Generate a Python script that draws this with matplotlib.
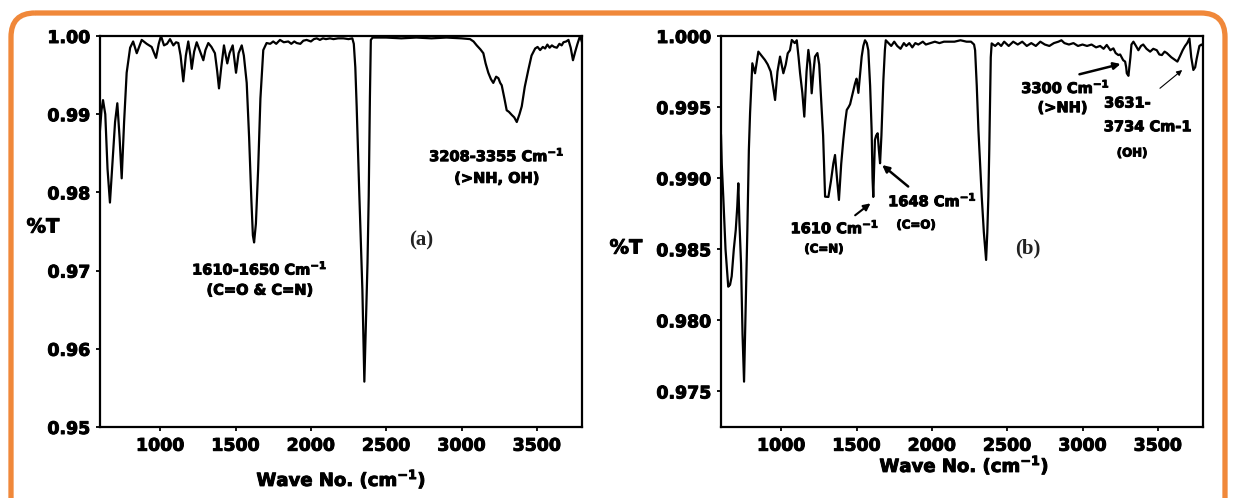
import numpy as np
import matplotlib
matplotlib.use("Agg")
import matplotlib.pyplot as plt
import matplotlib.patheffects as pe
from matplotlib.patches import FancyBboxPatch

plt.rcParams['font.family'] = ['DejaVu Sans']
plt.rcParams['font.weight'] = 'bold'
plt.rcParams['mathtext.default'] = 'bf'

# spectrum (a)
wn_a = [600, 610, 620, 635, 650, 666, 680, 700, 715, 730, 744, 760, 777, 800, 820, 844, 877,
        910, 943, 972, 990, 1005, 1025, 1045, 1065, 1087, 1105, 1120, 1135, 1153, 1170, 1186,
        1200, 1209, 1225, 1242, 1265, 1286, 1300, 1319, 1340, 1363, 1378, 1390, 1405, 1423,
        1435, 1445, 1460, 1481, 1492, 1503, 1520, 1541, 1555, 1574, 1590, 1605, 1615, 1623,
        1635, 1650, 1665, 1684, 1706, 1730, 1750, 1770, 1795, 1820, 1850, 1870, 1890, 1906,
        1930, 1950, 1972, 2000, 2020, 2039, 2060, 2080, 2100, 2127, 2150, 2180, 2216, 2250,
        2275, 2285, 2295, 2304, 2322, 2342, 2350, 2355, 2362, 2376, 2384, 2392, 2398, 2410,
        2500, 2600, 2700, 2800, 2900, 3000, 3057, 3080, 3101, 3125, 3145, 3160, 3178, 3195,
        3211, 3230, 3245, 3257, 3267, 3285, 3300, 3315, 3334, 3350, 3367, 3385, 3400, 3420,
        3444, 3465, 3489, 3505, 3522, 3540, 3555, 3570, 3585, 3600, 3615, 3633, 3650, 3665,
        3677, 3695, 3710, 3725, 3740, 3755, 3770, 3787, 3800]
T_a = [0.9880, 0.9905, 0.9918, 0.9900, 0.9830, 0.9787, 0.9830, 0.9890, 0.9914, 0.9870, 0.9818,
       0.9890, 0.9953, 0.9985, 0.9993, 0.9978, 0.9995, 0.9990, 0.9986, 0.9972, 0.9990, 1.0000,
       0.9988, 0.9990, 0.9996, 0.9988, 0.9992, 0.9991, 0.9975, 0.9942, 0.9975, 0.9993, 0.9975,
       0.9958, 0.9980, 0.9992, 0.9980, 0.9969, 0.9982, 0.9991, 0.9986, 0.9978, 0.9955, 0.9933,
       0.9960, 0.9988, 0.9975, 0.9965, 0.9978, 0.9988, 0.9970, 0.9953, 0.9978, 0.9988, 0.9975,
       0.9940, 0.9870, 0.9790, 0.9745, 0.9736, 0.9760, 0.9830, 0.9920, 0.9982, 0.9991, 0.9990,
       0.9993, 0.9990, 0.9995, 0.9992, 0.9993, 0.9990, 0.9993, 0.9991, 0.9990, 0.9994, 0.9995,
       0.9993, 0.9996, 0.9997, 0.9995, 0.9997, 0.9996, 0.9997, 0.9996, 0.9997, 0.9997, 0.9996,
       0.9997, 0.9990, 0.9960, 0.9910, 0.9795, 0.9675, 0.9600, 0.9558, 0.9610, 0.9710, 0.9795,
       0.9922, 0.9995, 0.9998, 0.9998, 0.9997, 0.9998, 0.9997, 0.9998, 0.9997, 0.9996, 0.9993,
       0.9988, 0.9983, 0.9978, 0.9965, 0.9953, 0.9945, 0.9940, 0.9948, 0.9946, 0.9940, 0.9937,
       0.9920, 0.9905, 0.9903, 0.9899, 0.9896, 0.9890, 0.9900, 0.9910, 0.9935, 0.9957, 0.9975,
       0.9984, 0.9986, 0.9982, 0.9986, 0.9984, 0.9989, 0.9985, 0.9988, 0.9986, 0.9985, 0.9990,
       0.9988, 0.9992, 0.9993, 0.9995, 0.9985, 0.9969, 0.9980, 0.9990, 1.0000, 0.9992]

# spectrum (b)
wn_b = [600, 605, 615, 630, 648, 660, 671, 685, 698, 708, 715, 722, 733, 743, 753, 762, 775,
        785, 793, 808, 826, 848, 870, 892, 910, 930, 945, 959, 975, 992, 1014, 1030, 1043,
        1058, 1070, 1090, 1103, 1115, 1125, 1140, 1153, 1168, 1180, 1192, 1202, 1214, 1224,
        1240, 1252, 1264, 1278, 1291, 1313, 1330, 1346, 1357, 1370, 1383, 1398, 1412, 1425,
        1435, 1447, 1457, 1475, 1490, 1500, 1512, 1525, 1534, 1545, 1556, 1568, 1578, 1590,
        1600, 1606, 1611, 1617, 1622, 1630, 1640, 1648, 1656, 1665, 1678, 1688, 1694, 1712,
        1730, 1750, 1770, 1792, 1814, 1830, 1850, 1870, 1890, 1910, 1940, 1960, 1990, 2020,
        2050, 2080, 2110, 2150, 2190, 2230, 2260, 2280, 2287, 2298, 2309, 2320, 2331, 2345,
        2360, 2368, 2375, 2381, 2386, 2391, 2397, 2420, 2440, 2460, 2480, 2510, 2540, 2570,
        2600, 2630, 2660, 2690, 2720, 2750, 2780, 2810, 2840, 2860, 2880, 2910, 2940, 2970,
        3000, 3030, 3060, 3090, 3117, 3140, 3161, 3185, 3205, 3220, 3238, 3250, 3260, 3270,
        3283, 3290, 3294, 3305, 3318, 3325, 3338, 3355, 3371, 3388, 3403, 3425, 3449, 3470,
        3493, 3510, 3527, 3545, 3560, 3590, 3615, 3630, 3648, 3665, 3681, 3695, 3710, 3722,
        3736, 3748, 3758, 3776, 3790, 3800]
T_b = [0.9930, 0.9910, 0.9887, 0.9850, 0.98237, 0.9825, 0.9831, 0.9850, 0.98636, 0.9880,
       0.98964, 0.9870, 0.9840, 0.9790, 0.97569, 0.9800, 0.98636, 0.9920, 0.99458, 0.99808,
       0.99738, 0.9989, 0.9986, 0.99831, 0.9980, 0.9975, 0.9965, 0.9955, 0.9975, 0.99855,
       0.99738, 0.9980, 0.99878, 0.9990, 0.99972, 0.9995, 0.9997, 0.9985, 0.99738, 0.9960,
       0.99433, 0.9975, 0.99902, 0.9980, 0.99597, 0.9975, 0.99855, 0.9988, 0.9980, 0.99573,
       0.9930, 0.9887, 0.98868, 0.9898, 0.99105, 0.99163, 0.9900, 0.98847, 0.9910, 0.99269,
       0.9940, 0.9948, 0.9950, 0.9952, 0.9960, 0.99667, 0.9970, 0.9960, 0.9975, 0.99855,
       0.9993, 0.9997, 0.9995, 0.9990, 0.9965, 0.99339, 0.9900, 0.98868, 0.9910, 0.99269,
       0.9930, 0.99316, 0.9920, 0.99105, 0.9930, 0.9969, 0.9990, 0.9997, 0.9995, 0.9993,
       0.9996, 0.9993, 0.9991, 0.9995, 0.9993, 0.9995, 0.9992, 0.9995, 0.9994, 0.9996,
       0.9994, 0.9995, 0.9996, 0.9995, 0.9996, 0.9996, 0.9996, 0.9997, 0.9996, 0.9996,
       0.9994, 0.9990, 0.9965, 0.99339, 0.9910, 0.9887, 0.9862, 0.98425, 0.9862, 0.9887,
       0.9920, 0.99527, 0.9985, 0.99948, 0.9993, 0.9995, 0.9993, 0.9996, 0.9993, 0.9996,
       0.9994, 0.9996, 0.9993, 0.9995, 0.9993, 0.9996, 0.9994, 0.9993, 0.9995, 0.9996,
       0.9997, 0.9995, 0.9994, 0.9995, 0.9993, 0.9994, 0.9993, 0.9994, 0.9992, 0.9993,
       0.9991, 0.99937, 0.9990, 0.99913, 0.9988, 0.99866, 0.9987, 0.9985, 0.9983, 0.9982,
       0.9978, 0.99738, 0.9972, 0.9985, 0.9994, 0.9996, 0.9993, 0.9990, 0.9993, 0.9994,
       0.9991, 0.9989, 0.9991, 0.9990, 0.9987, 0.99866, 0.9989, 0.9988, 0.9985, 0.99831,
       0.9982, 0.9986, 0.9990, 0.9993, 0.9995, 0.99983, 0.9985, 0.99761, 0.9978, 0.9984,
       0.9993, 0.9994, 0.9993]

xticks = [1000, 1500, 2000, 2500, 3000, 3500]
yticks_a = [0.95, 0.96, 0.97, 0.98, 0.99, 1.00]
yticks_b = [0.975, 0.980, 0.985, 0.990, 0.995, 1.000]

W, H = 1236, 498
fig = plt.figure(figsize=(W / 100, H / 100), dpi=100)

# heavier look for the bold lettering
heavy = [pe.withStroke(linewidth=0.7, foreground='black')]

# orange frame (pixel units so the corners stay round), bottom runs off the picture
bg = fig.add_axes([0, 0, 1, 1])
bg.set_xlim(0, W)
bg.set_ylim(H, 0)
bg.axis('off')
bg.add_patch(FancyBboxPatch((11, 13), W - 22, 600, boxstyle="round,pad=0,rounding_size=24",
                            fill=False, ec='#f0883a', lw=3.8))


def px_box(l, r, t, b):
    return [l / W, 1 - b / H, (r - l) / W, (b - t) / H]


ax1 = fig.add_axes(px_box(100, 582, 36, 427))
ax2 = fig.add_axes(px_box(721, 1203, 36, 427))

for ax, x, y, yt, fmt, ylim in [(ax1, wn_a, T_a, yticks_a, '%.2f', (0.95, 1.0)),
                                (ax2, wn_b, T_b, yticks_b, '%.3f', (0.9725, 1.0))]:
    ax.plot(x, y, color='black', lw=1.6)
    ax.set_xlim(600, 3800)
    ax.set_ylim(*ylim)
    ax.set_xticks(xticks)
    ax.set_yticks(yt)
    ax.set_yticklabels([fmt % v for v in yt])
    ax.tick_params(direction='out', length=3, width=1.3, labelsize=12.5, pad=4)
    for lab in ax.get_xticklabels() + ax.get_yticklabels():
        lab.set_path_effects(heavy)
    for s in ax.spines.values():
        s.set_linewidth(1.6)


def label(target, x, y, s, size, **kw):
    t = target.text(x, y, s, fontsize=size, ha='center', va='center', **kw)
    t.set_path_effects(heavy)
    return t


# axis titles
label(fig, 43 / W, 1 - 227 / H, '%T', 14)
label(fig, 626 / W, 1 - 248 / H, '%T', 14)
label(fig, 341 / W, 1 - 479 / H, 'Wave No. (cm$^{-1}$)', 13)
label(fig, 964 / W, 1 - 465 / H, 'Wave No. (cm$^{-1}$)', 13)

# annotations (a)
label(ax1, 1662, 0.9703, '1610-1650 Cm$^{-1}$', 10.5)
label(ax1, 1662, 0.9675, '(C=O & C=N)', 10.5)
label(ax1, 3236, 0.9848, '3208-3355 Cm$^{-1}$', 10.5)
label(ax1, 3236, 0.9818, '(>NH, OH)', 10.5)
ax1.text(2731, 0.9739, '(a)', fontsize=15, ha='center', va='center',
         family='Liberation Serif', color='#222222')

# annotations (b)
label(ax2, 1357, 0.98657, '1610 Cm$^{-1}$', 10.5)
label(ax2, 1284, 0.98502, '(C=N)', 8.5)
label(ax2, 2005, 0.98847, '1648 Cm$^{-1}$', 10.5)
label(ax2, 1895, 0.98671, '(C=O)', 8.5)
label(ax2, 2889, 0.99643, '3300 Cm$^{-1}$', 10.5)
label(ax2, 2868, 0.99496, '(>NH)', 10.5)
label(ax2, 3298, 0.99529, '3631-', 10.5)
label(ax2, 3433, 0.99362, '3734 Cm-1', 10.5)
label(ax2, 3329, 0.99177, '(OH)', 8.5)
ax2.text(2638, 0.98509, '(b)', fontsize=15, ha='center', va='center',
         family='Liberation Serif', color='#222222')

ax2.annotate('', xy=(1607, 0.98835), xytext=(1476, 0.98727),
             arrowprops=dict(arrowstyle='-|>', color='black', lw=1.5, mutation_scale=10))
ax2.annotate('', xy=(1656, 0.99105), xytext=(1857, 0.98929),
             arrowprops=dict(arrowstyle='-|>', color='black', lw=1.8, mutation_scale=10))
ax2.annotate('', xy=(3271, 0.99808), xytext=(2962, 0.99726),
             arrowprops=dict(arrowstyle='-|>', color='black', lw=1.8, mutation_scale=10))
ax2.annotate('', xy=(3676, 0.99773), xytext=(3500, 0.9962),
             arrowprops=dict(arrowstyle='-|>', color='black', lw=0.8, mutation_scale=8))

fig.savefig('out.png', dpi=100)
